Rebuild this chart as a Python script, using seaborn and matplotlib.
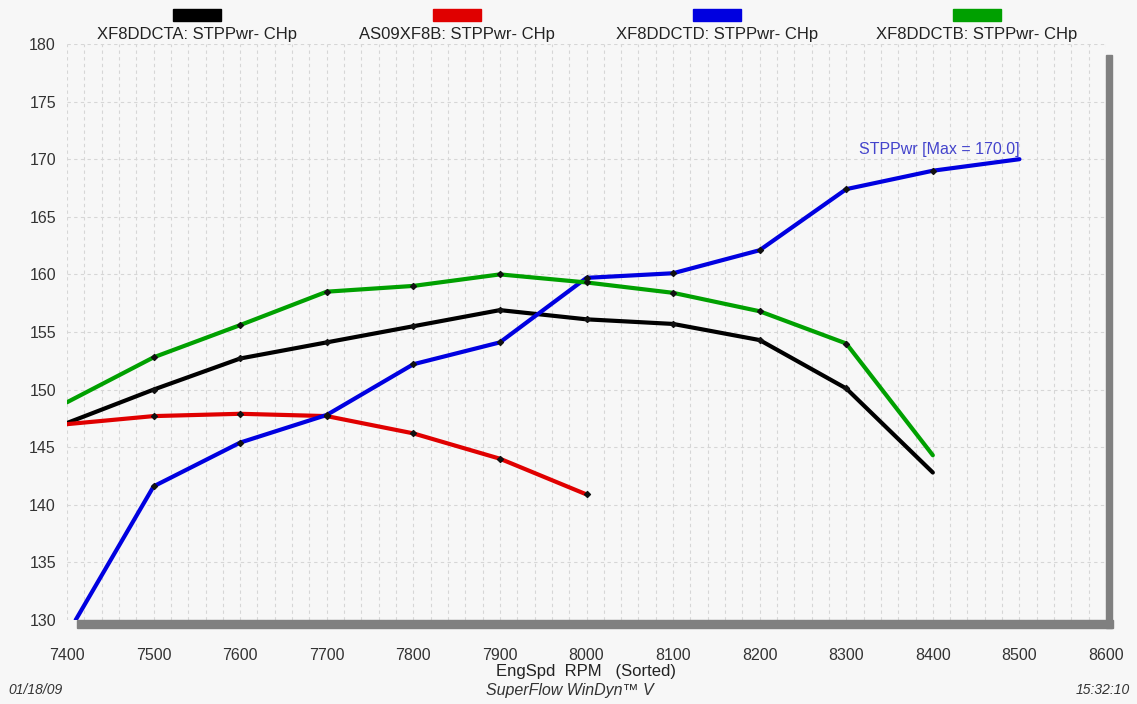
import numpy as np
import pandas as pd
import seaborn as sns
import matplotlib.pyplot as plt
from matplotlib.patches import Rectangle
from matplotlib.ticker import MultipleLocator

# -----------------------------
# DATA
# -----------------------------
rpm_a = [7400, 7500, 7600, 7700, 7800, 7900, 8000, 8100, 8200, 8300, 8400]
pwr_a = [147.1, 150.0, 152.7, 154.1, 155.5, 156.9, 156.1, 155.7, 154.3, 150.1, 142.8]

rpm_b = [7400, 7500, 7600, 7700, 7800, 7900, 8000]
pwr_b = [147.0, 147.7, 147.9, 147.7, 146.2, 144.0, 140.9]

rpm_d = [7410, 7500, 7600, 7700, 7800, 7900, 8000, 8100, 8200, 8300, 8400, 8500]
pwr_d = [130.0, 141.6, 145.4, 147.8, 152.2, 154.1, 159.7, 160.1, 162.1, 167.4, 169.0, 170.0]

rpm_c = [7400, 7500, 7600, 7700, 7800, 7900, 8000, 8100, 8200, 8300, 8400]
pwr_c = [148.9, 152.8, 155.6, 158.5, 159.0, 160.0, 159.3, 158.4, 156.8, 154.0, 144.3]

labels = ["XF8DDCTA: STPPwr- CHp", "AS09XF8B: STPPwr- CHp",
          "XF8DDCTD: STPPwr- CHp", "XF8DDCTB: STPPwr- CHp"]
colors = ["#000000", "#e00000", "#0000e0", "#00a000"]
# whether the last point of each run carries a dot marker
end_marker = [False, True, False, False]

frames = []
for lab, x, y in zip(labels, [rpm_a, rpm_b, rpm_d, rpm_c], [pwr_a, pwr_b, pwr_d, pwr_c]):
    frames.append(pd.DataFrame({"rpm": x, "pwr": y, "run": lab}))
df = pd.concat(frames, ignore_index=True)

# -----------------------------
# STYLE
# -----------------------------
sns.set_style("white")
plt.rcParams["font.family"] = ["Liberation Sans", "DejaVu Sans"]

bg = "#f7f7f7"
fig = plt.figure(figsize=(11.37, 7.04), dpi=100, facecolor=bg)
ax = fig.add_axes([67 / 1137, 1 - 620 / 704, (1106 - 67) / 1137, (620 - 44) / 704])
ax.set_facecolor(bg)

sns.lineplot(data=df, x="rpm", y="pwr", hue="run", hue_order=labels,
             palette=colors, linewidth=3, legend=False, ax=ax, sort=False)

# small black markers on the measured points
for f, keep_end in zip(frames, end_marker):
    sub = f.iloc[1:] if keep_end else f.iloc[1:-1]
    ax.scatter(sub["rpm"], sub["pwr"], marker="D", s=9, color="#111111", zorder=5)

ax.set_xlim(7400, 8600)
ax.set_ylim(130, 180)
ax.xaxis.set_major_locator(MultipleLocator(100))
ax.xaxis.set_minor_locator(MultipleLocator(20))
ax.yaxis.set_major_locator(MultipleLocator(5))
ax.grid(which="both", axis="x", color="#d6d6d6", linestyle=(0, (3, 3)), linewidth=0.8)
ax.grid(which="major", axis="y", color="#d6d6d6", linestyle=(0, (3, 3)), linewidth=0.8)
ax.set_axisbelow(True)
for s in ax.spines.values():
    s.set_visible(False)
ax.tick_params(which="both", length=0, labelsize=11.5, colors="#333333")
ax.tick_params(axis="x", pad=20)
ax.tick_params(axis="y", pad=8)
ax.set_xlabel("EngSpd  RPM   (Sorted)", fontsize=12, color="#222222", labelpad=1)
ax.set_ylabel("")

# grey drop shadow along bottom and right
ax.add_patch(Rectangle((0.01, -0.014), 0.997, 0.014, transform=ax.transAxes,
                       color="#808080", clip_on=False, zorder=3))
ax.add_patch(Rectangle((1.0, -0.014), 0.006, 0.995, transform=ax.transAxes,
                       color="#808080", clip_on=False, zorder=3))

# max annotation
ax.text(8500, 170.85, "STPPwr [Max = 170.0]", ha="right", va="center",
        color="#4444cc", fontsize=11.5)

# legend across the top
centers = [197, 457, 717, 977]
for cx, lab, col in zip(centers, labels, colors):
    fig.patches.append(Rectangle(((cx - 24) / 1137, 1 - 21 / 704), 48 / 1137, 12 / 704,
                                 transform=fig.transFigure, color=col))
    fig.text(cx / 1137, 1 - 34 / 704, lab, ha="center", va="center",
             fontsize=12, color="#222222")

# footer
fig.text(8 / 1137, 1 - 690 / 704, "01/18/09", ha="left", va="center",
         fontsize=10, style="italic", color="#333333")
fig.text(570 / 1137, 1 - 690 / 704, "SuperFlow WinDyn\u2122 V", ha="center", va="center",
         fontsize=11.5, style="italic", color="#333333")
fig.text(1130 / 1137, 1 - 690 / 704, "15:32:10", ha="right", va="center",
         fontsize=10, style="italic", color="#333333")

fig.savefig("out.png", dpi=100, facecolor=bg)
